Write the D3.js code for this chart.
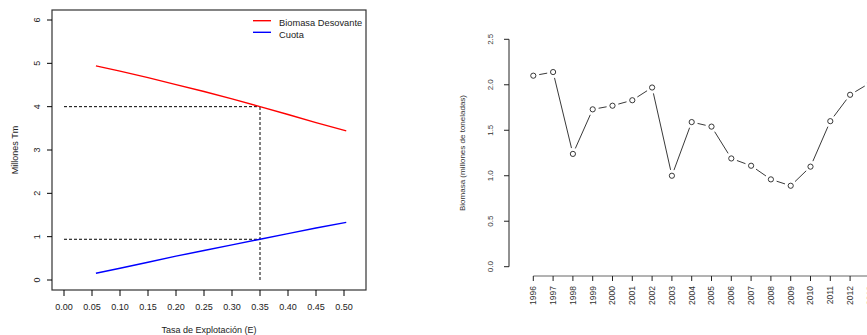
<!DOCTYPE html>
<html>
<head>
<meta charset="utf-8">
<script src="https://cdn.jsdelivr.net/npm/d3@7"></script>
<style>
  html, body { margin: 0; padding: 0; background: #fff; }
  svg { display: block; font-family: "Liberation Sans", Arial, Helvetica, sans-serif; }
</style>
</head>
<body>
<div id="container"></div>
<script>
const width = 867, height = 335;

// --- Data: left panel (exploitation rate vs spawning biomass / quota) ---
const tasa = [0.057, 0.10, 0.15, 0.20, 0.25, 0.30, 0.35, 0.40, 0.45, 0.504];
const biomasaDesovante = [4.94, 4.82, 4.67, 4.51, 4.35, 4.18, 4.00, 3.82, 3.63, 3.44];
const cuota = [0.155, 0.27, 0.41, 0.55, 0.68, 0.81, 0.94, 1.07, 1.20, 1.33];
const refTasa = 0.35, refBiomasa = 4.0, refCuota = 0.94;
const xTicksLeft = [0, 0.05, 0.10, 0.15, 0.20, 0.25, 0.30, 0.35, 0.40, 0.45, 0.50];
const yTicksLeft = [0, 1, 2, 3, 4, 5, 6];
const legendLabels = ["Biomasa Desovante", "Cuota"];
const legendColors = ["#ff0000", "#0000ff"];

// --- Data: right panel (biomass by year) ---
const anios = [1996, 1997, 1998, 1999, 2000, 2001, 2002, 2003, 2004, 2005,
  2006, 2007, 2008, 2009, 2010, 2011, 2012, 2013];
const biomasa = [2.10, 2.14, 1.24, 1.73, 1.77, 1.83, 1.97, 1.00, 1.59, 1.54,
  1.19, 1.11, 0.96, 0.89, 1.10, 1.60, 1.89, 2.02];
const yTicksRight = [0, 0.5, 1.0, 1.5, 2.0, 2.5];

const svg = d3.select("#container").append("svg")
  .attr("width", width).attr("height", height);

// ================= Left panel =================
const box = { left: 52, right: 366, top: 10, bottom: 290 };
const xL = d3.scaleLinear().domain([0, 0.5]).range([64, 344]);
const yL = d3.scaleLinear().domain([0, 6]).range([280, 20]);

svg.append("rect")
  .attr("x", box.left).attr("y", box.top)
  .attr("width", box.right - box.left).attr("height", box.bottom - box.top)
  .attr("fill", "none").attr("stroke", "#333").attr("stroke-width", 1.2);

// y axis ticks
const gyL = svg.append("g");
yTicksLeft.forEach((v) => {
  gyL.append("line")
    .attr("x1", box.left - 5).attr("x2", box.left)
    .attr("y1", yL(v)).attr("y2", yL(v))
    .attr("stroke", "#000");
  gyL.append("text")
    .attr("transform", `translate(37,${yL(v)}) rotate(-90)`)
    .attr("text-anchor", "middle").attr("dy", "0.35em")
    .style("font-size", "9px").attr("fill", "#222")
    .text(v);
});

// x axis ticks
const gxL = svg.append("g");
xTicksLeft.forEach((v) => {
  gxL.append("line")
    .attr("x1", xL(v)).attr("x2", xL(v))
    .attr("y1", box.bottom).attr("y2", box.bottom + 6)
    .attr("stroke", "#000");
  gxL.append("text")
    .attr("x", xL(v)).attr("y", 307).attr("dy", "0.35em")
    .attr("text-anchor", "middle")
    .style("font-size", "9px").attr("fill", "#222")
    .text(d3.format(".2f")(v));
});

// reference dashed lines
const dash = "3,2";
svg.append("line")
  .attr("x1", xL(0)).attr("x2", xL(refTasa))
  .attr("y1", yL(refBiomasa)).attr("y2", yL(refBiomasa))
  .attr("stroke", "#000").attr("stroke-dasharray", dash);
svg.append("line")
  .attr("x1", xL(0)).attr("x2", xL(refTasa))
  .attr("y1", yL(refCuota)).attr("y2", yL(refCuota))
  .attr("stroke", "#000").attr("stroke-dasharray", dash);
svg.append("line")
  .attr("x1", xL(refTasa)).attr("x2", xL(refTasa))
  .attr("y1", yL(0)).attr("y2", yL(refBiomasa))
  .attr("stroke", "#000").attr("stroke-dasharray", dash);

// curves
const lineL = d3.line().x((d) => xL(d[0])).y((d) => yL(d[1]));
svg.append("path")
  .datum(d3.zip(tasa, biomasaDesovante))
  .attr("d", lineL).attr("fill", "none")
  .attr("stroke", legendColors[0]).attr("stroke-width", 1.4);
svg.append("path")
  .datum(d3.zip(tasa, cuota))
  .attr("d", lineL).attr("fill", "none")
  .attr("stroke", legendColors[1]).attr("stroke-width", 1.4);

// legend
legendLabels.forEach((lab, i) => {
  const ly = 20.7 + i * 11.6;
  svg.append("line")
    .attr("x1", 253).attr("x2", 271)
    .attr("y1", ly).attr("y2", ly)
    .attr("stroke", legendColors[i]).attr("stroke-width", 1.4);
  svg.append("text")
    .attr("x", 279).attr("y", ly + 5.5)
    .style("font-size", "9.3px").attr("fill", "#222")
    .text(lab);
});

// axis titles
svg.append("text")
  .attr("x", (box.left + box.right) / 2).attr("y", 333)
  .attr("text-anchor", "middle")
  .style("font-size", "9px").attr("fill", "#222")
  .text("Tasa de Explotación (E)");
svg.append("text")
  .attr("transform", `translate(15,${(yL(0) + yL(6)) / 2}) rotate(-90)`)
  .attr("text-anchor", "middle").attr("dy", "0.35em")
  .style("font-size", "9px").attr("fill", "#222")
  .text("Millones Tm");

// ================= Right panel =================
const xR = d3.scaleLinear().domain([1996, 2013]).range([533.3, 533.3 + 17 * 19.8]);
const yR = d3.scaleLinear().domain([0, 2.5]).range([266.7, 39.3]);
const axisX = 509, axisY = 276;

// y axis
svg.append("line")
  .attr("x1", axisX).attr("x2", axisX)
  .attr("y1", yR(0)).attr("y2", yR(2.5))
  .attr("stroke", "#222");
yTicksRight.forEach((v) => {
  svg.append("line")
    .attr("x1", axisX - 5).attr("x2", axisX)
    .attr("y1", yR(v)).attr("y2", yR(v))
    .attr("stroke", "#222");
  svg.append("text")
    .attr("transform", `translate(490,${yR(v)}) rotate(-90)`)
    .attr("text-anchor", "middle").attr("dy", "0.35em")
    .style("font-size", "8px").attr("fill", "#333")
    .text(d3.format(".1f")(v));
});

// x axis
svg.append("line")
  .attr("x1", xR(anios[0])).attr("x2", width)
  .attr("y1", axisY).attr("y2", axisY)
  .attr("stroke", "#666");
anios.forEach((a) => {
  svg.append("line")
    .attr("x1", xR(a)).attr("x2", xR(a))
    .attr("y1", axisY).attr("y2", axisY + 5)
    .attr("stroke", "#222");
  svg.append("text")
    .attr("transform", `translate(${xR(a)},286) rotate(-90)`)
    .attr("text-anchor", "end").attr("dy", "0.35em")
    .style("font-size", "8.5px").attr("fill", "#333")
    .text(a);
});

// y title
svg.append("text")
  .attr("transform", `translate(462,${(yR(0) + yR(2.5)) / 2}) rotate(-90)`)
  .attr("text-anchor", "middle").attr("dy", "0.35em")
  .style("font-size", "8px").attr("fill", "#333")
  .text("Biomasa (millones de toneladas)");

// "b" type: segments with gaps around points
const pts = anios.map((a, i) => [xR(a), yR(biomasa[i])]);
const gap = 6;
for (let i = 0; i < pts.length - 1; i++) {
  const [x1, y1] = pts[i], [x2, y2] = pts[i + 1];
  const len = Math.hypot(x2 - x1, y2 - y1);
  if (len <= 2 * gap) continue;
  const ux = (x2 - x1) / len, uy = (y2 - y1) / len;
  svg.append("line")
    .attr("x1", x1 + ux * gap).attr("y1", y1 + uy * gap)
    .attr("x2", x2 - ux * gap).attr("y2", y2 - uy * gap)
    .attr("stroke", "#222").attr("stroke-width", 0.9);
}
svg.selectAll(".pt").data(pts).join("circle")
  .attr("class", "pt")
  .attr("cx", (d) => d[0]).attr("cy", (d) => d[1])
  .attr("r", 2.6)
  .attr("fill", "none").attr("stroke", "#222").attr("stroke-width", 0.9);
</script>
</body>
</html>
